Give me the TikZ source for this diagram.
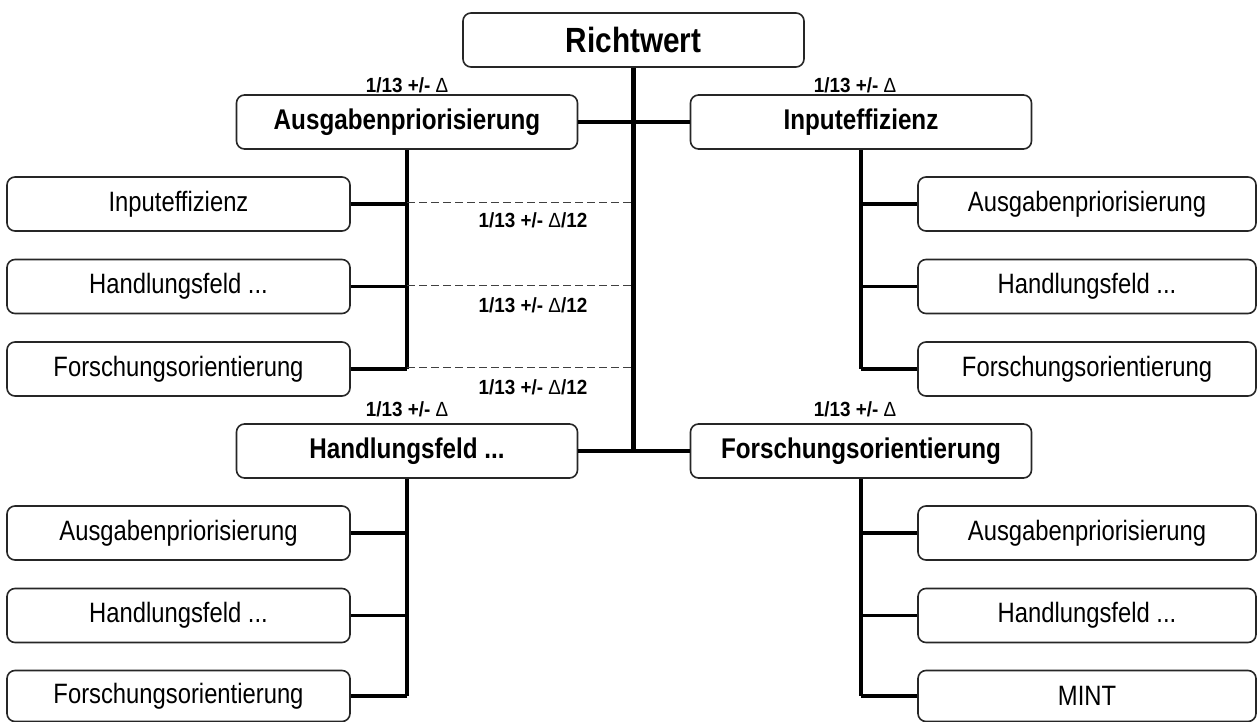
\documentclass[tikz,border=0pt]{standalone}
\usepackage{fontspec}
\setmainfont{Liberation Sans}[FakeStretch=0.85]
\newfontfamily\lblfont{Liberation Sans}[FakeStretch=0.92]
\begin{document}
\begin{tikzpicture}[x=1pt,y=-1pt,
  box/.style={draw=black!85, line width=1.6pt, rounded corners=8pt, fill=white,
              minimum height=54pt, inner sep=0pt, align=center},
  rootbox/.style={box, minimum width=341pt, font=\bfseries\fontsize{35}{37}\selectfont},
  topbox/.style={box, minimum width=341pt, font=\bfseries\fontsize{28.5}{30}\selectfont},
  leaf/.style={box, minimum width=343pt, font=\fontsize{28}{30}\selectfont},
  rleaf/.style={leaf, minimum width=338pt},
  conn/.style={line width=4.5pt},
  branch/.style={line width=3.6pt},
  dline/.style={dash pattern=on 8pt off 4pt, line width=1pt, black!75},
  lbl/.style={font=\lblfont\bfseries\fontsize{20.5}{22}\selectfont, inner sep=0pt, anchor=base},
]
\useasboundingbox (0,0) rectangle (1258,722);

% root and top-level nodes
\node[rootbox] (R) at (633.5,40) {Richtwert};
\node[topbox] (A) at (407,122) {Ausgabenpriorisierung};
\node[topbox] (I) at (861,122) {Inputeffizienz};
\node[topbox] (H) at (407,451) {Handlungsfeld ...};
\node[topbox] (F) at (861,451) {Forschungsorientierung};

% leaves of A
\node[leaf] (A1) at (178.5,204) {Inputeffizienz};
\node[leaf] (A2) at (178.5,286.5) {Handlungsfeld ...};
\node[leaf] (A3) at (178.5,369) {Forschungsorientierung};
% leaves of I
\node[rleaf] (I1) at (1087,204) {Ausgabenpriorisierung};
\node[rleaf] (I2) at (1087,286.5) {Handlungsfeld ...};
\node[rleaf] (I3) at (1087,369) {Forschungsorientierung};
% leaves of H
\node[leaf] (H1) at (178.5,533) {Ausgabenpriorisierung};
\node[leaf] (H2) at (178.5,615.5) {Handlungsfeld ...};
\node[leaf, minimum height=51pt] (H3) at (178.5,696) {Forschungsorientierung};
% leaves of F
\node[rleaf] (F1) at (1087,533) {Ausgabenpriorisierung};
\node[rleaf] (F2) at (1087,615.5) {Handlungsfeld ...};
\node[rleaf, minimum height=51pt] (F3) at (1087,696) {MINT};

% weight labels
\node[lbl] (lA) at (407,93) {1/13 +/- {\mdseries Δ}};
\node[lbl] (lI) at (855,93) {1/13 +/- {\mdseries Δ}};
\node[lbl] (lH) at (407,416) {1/13 +/- {\mdseries Δ}};
\node[lbl] (lF) at (855,416) {1/13 +/- {\mdseries Δ}};
\node[lbl] (d1) at (533,227) {1/13 +/- {\mdseries Δ}/12};
\node[lbl] (d2) at (533,312) {1/13 +/- {\mdseries Δ}/12};
\node[lbl] (d3) at (533,394) {1/13 +/- {\mdseries Δ}/12};

% main structure
\draw[conn] (R.south) -- (R.south |- H.east);
\draw[conn] (A.east) -- (I.west);
\draw[conn] (H.east) -- (F.west);

% subtrees
\draw[conn] (A.south) -- (A.south |- A3.east);
\foreach \c in {A1,A2,A3} \draw[branch] (\c.east) -- (\c.east -| A.south);
\draw[conn] (I.south) -- (I.south |- I3.west);
\foreach \c in {I1,I2,I3} \draw[branch] (\c.west) -- (\c.west -| I.south);
\draw[conn] (H.south) -- (H.south |- H3.east);
\foreach \c in {H1,H2,H3} \draw[branch] (\c.east) -- (\c.east -| H.south);
\draw[conn] (F.south) -- (F.south |- F3.west);
\foreach \c in {F1,F2,F3} \draw[branch] (\c.west) -- (\c.west -| F.south);

% dashed links
\foreach \c in {A1,A2,A3} \draw[dline] ([yshift=1.5pt]\c.east -| A.south) -- ([yshift=1.5pt]\c.east -| R.south);
\end{tikzpicture}
\end{document}
